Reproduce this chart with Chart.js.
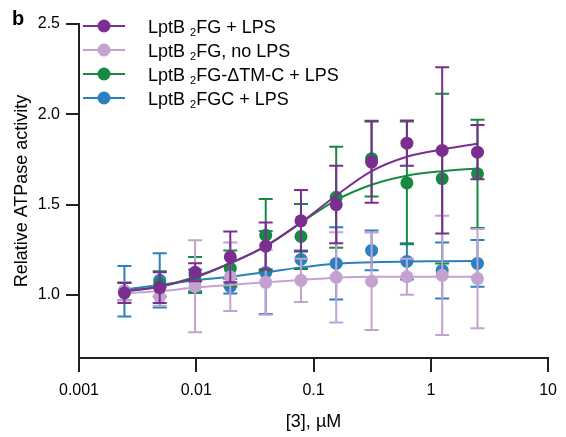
<!DOCTYPE html>
<html>
<head>
<meta charset="utf-8">
<script src="https://cdn.jsdelivr.net/npm/chart.js@4/dist/chart.umd.min.js"></script>
<style>
  html, body { margin: 0; padding: 0; background: #ffffff; }
  #wrap { width: 566px; height: 437px; position: relative; }
</style>
</head>
<body>
<div id="wrap"><canvas id="c" width="566" height="437"></canvas></div>
<script>
// ---- data ----
const panelLabel = 'b';
const doses = [0.00244, 0.00488, 0.00977, 0.0195, 0.0391, 0.0781, 0.156, 0.3125, 0.625, 1.25, 2.5];

const seriesLabels = ['LptB ₂FG + LPS', 'LptB ₂FG, no LPS', 'LptB ₂FG-ΔTM-C + LPS', 'LptB ₂FGC + LPS'];

const fgLpsMean = [1.01, 1.04, 1.125, 1.21, 1.27, 1.41, 1.50, 1.735, 1.84, 1.80, 1.79];
const fgLpsSD   = [0.055, 0.085, 0.05, 0.14, 0.13, 0.17, 0.215, 0.225, 0.125, 0.46, 0.15];
const fgLpsFit  = [1.02, 1.045, 1.095, 1.175, 1.27, 1.40, 1.55, 1.685, 1.765, 1.805, 1.837];

const noLpsMean = [1.02, 0.99, 1.047, 1.10, 1.069, 1.08, 1.097, 1.075, 1.10, 1.108, 1.09];
const noLpsSD   = [0.05, 0.05, 0.255, 0.19, 0.18, 0.12, 0.25, 0.27, 0.10, 0.33, 0.275];
const noLpsFit  = [1.01, 1.02, 1.04, 1.055, 1.07, 1.082, 1.095, 1.10, 1.10, 1.10, 1.10];

const dtmMean = [1.02, 1.06, 1.11, 1.146, 1.33, 1.323, 1.54, 1.754, 1.62, 1.644, 1.67];
const dtmSD   = [0.05, 0.07, 0.10, 0.10, 0.20, 0.18, 0.28, 0.21, 0.34, 0.47, 0.30];
const dtmFit  = [1.02, 1.045, 1.10, 1.175, 1.27, 1.40, 1.525, 1.61, 1.66, 1.685, 1.70];

const fgcMean = [1.02, 1.08, 1.08, 1.047, 1.124, 1.196, 1.174, 1.246, 1.185, 1.135, 1.174];
const fgcSD   = [0.14, 0.15, 0.06, 0.04, 0.23, 0.05, 0.20, 0.11, 0.10, 0.155, 0.13];
const fgcFit  = [1.03, 1.055, 1.08, 1.10, 1.125, 1.152, 1.172, 1.18, 1.185, 1.186, 1.187];

const xTicks = [0.001, 0.01, 0.1, 1, 10];
const xTickLabels = ['0.001', '0.01', '0.1', '1', '10'];
const yTicks = [1.0, 1.5, 2.0, 2.5];
const yTickLabels = ['1.0', '1.5', '2.0', '2.5'];
const xTitle = '[3], µM';
const yTitle = 'Relative ATPase activity';

// ---- styles ----
const FONT = "'Liberation Sans', Arial, Helvetica, sans-serif";
const INK = '#231f20';
const C_PURPLE = '#7b2e8f';
const C_LILAC = '#c3a2d0';
const C_GREEN = '#178a41';
const C_BLUE = '#2b80c0';

function pts(vals) { return doses.map((d, i) => ({ x: d, y: vals[i] })); }

function pointSet(label, vals, sd, color, row) {
  return {
    label: label, data: pts(vals), errors: sd, legendRow: row,
    showLine: false, pointRadius: 6.5, pointHoverRadius: 6.5,
    pointBackgroundColor: color, pointBorderColor: color, pointBorderWidth: 0,
    borderColor: color, backgroundColor: color
  };
}
function fitSet(vals, color) {
  return {
    label: 'fit', data: pts(vals), showLine: true, pointRadius: 0, pointHoverRadius: 0,
    borderColor: color, borderWidth: 2, cubicInterpolationMode: 'monotone', fill: false
  };
}

// index 0 is drawn on top
const datasets = [
  pointSet(seriesLabels[0], fgLpsMean, fgLpsSD, C_PURPLE, 0),
  fitSet(fgLpsFit, C_PURPLE),
  pointSet(seriesLabels[1], noLpsMean, noLpsSD, C_LILAC, 1),
  fitSet(noLpsFit, C_LILAC),
  pointSet(seriesLabels[2], dtmMean, dtmSD, C_GREEN, 2),
  fitSet(dtmFit, C_GREEN),
  pointSet(seriesLabels[3], fgcMean, fgcSD, C_BLUE, 3),
  fitSet(fgcFit, C_BLUE)
];

const errorBars = {
  id: 'errorBars',
  beforeDatasetDraw(chart, args) {
    const ds = chart.data.datasets[args.index];
    if (!ds.errors) return;
    const ctx = chart.ctx, xs = chart.scales.x, ys = chart.scales.y;
    ctx.save();
    ctx.strokeStyle = ds.borderColor;
    ctx.lineWidth = 2;
    ds.data.forEach((p, i) => {
      const e = ds.errors[i];
      const px = xs.getPixelForValue(p.x);
      const yt = ys.getPixelForValue(p.y + e);
      const yb = ys.getPixelForValue(p.y - e);
      ctx.beginPath();
      ctx.moveTo(px, yt); ctx.lineTo(px, yb);
      ctx.moveTo(px - 7, yt); ctx.lineTo(px + 7, yt);
      ctx.moveTo(px - 7, yb); ctx.lineTo(px + 7, yb);
      ctx.stroke();
    });
    ctx.restore();
  }
};

function drawLabelWithSub(ctx, text, x, y) {
  // '₂' is rendered as a lowered small "2"
  const parts = text.split('₂');
  let cx = x;
  parts.forEach((part, k) => {
    if (k > 0) {
      ctx.font = '11px ' + FONT;
      ctx.fillText('2', cx, y + 3);
      cx += ctx.measureText('2').width;
    }
    ctx.font = '18px ' + FONT;
    ctx.fillText(part, cx, y);
    cx += ctx.measureText(part).width;
  });
}

const legendAndLabel = {
  id: 'legendAndLabel',
  afterDraw(chart) {
    const ctx = chart.ctx;
    ctx.save();
    // panel label
    ctx.fillStyle = '#000';
    ctx.font = 'bold 20px ' + FONT;
    ctx.textBaseline = 'alphabetic';
    ctx.textAlign = 'left';
    ctx.fillText(panelLabel, 12, 25);
    // legend
    chart.data.datasets.forEach(ds => {
      if (ds.legendRow === undefined) return;
      const cy = 26 + ds.legendRow * 24;
      ctx.strokeStyle = ds.borderColor;
      ctx.lineWidth = 2;
      ctx.beginPath(); ctx.moveTo(83, cy); ctx.lineTo(125, cy); ctx.stroke();
      ctx.fillStyle = ds.borderColor;
      ctx.beginPath(); ctx.arc(104, cy, 6.5, 0, Math.PI * 2); ctx.fill();
      ctx.fillStyle = '#000';
      ctx.textBaseline = 'alphabetic';
      drawLabelWithSub(ctx, ds.label, 148, cy + 6.5);
    });
    ctx.restore();
  }
};

new Chart(document.getElementById('c'), {
  type: 'line',
  data: { datasets: datasets },
  options: {
    responsive: false,
    animation: false,
    devicePixelRatio: 1,
    layout: { padding: { top: 24, right: 13, left: 0, bottom: 0 } },
    plugins: { legend: { display: false }, tooltip: { enabled: false }, title: { display: false } },
    scales: {
      x: {
        type: 'logarithmic', min: 0.001, max: 10,
        afterBuildTicks: s => { s.ticks = xTicks.map(v => ({ value: v, major: true })); },
        afterFit: s => { s.height = 79; },
        border: { display: true, color: INK, width: 2 },
        grid: { display: true, drawOnChartArea: false, drawTicks: true, tickLength: 14, color: INK, lineWidth: 2 },
        ticks: { autoSkip: false, maxRotation: 0, color: '#000', padding: 9,
                 font: { family: FONT, size: 16 },
                 callback: (v, i) => xTickLabels[i] },
        title: { display: true, text: xTitle, color: '#000', font: { family: FONT, size: 18 },
                 padding: { top: 0, bottom: 4 } }
      },
      y: {
        type: 'linear', min: 0.65, max: 2.5,
        afterBuildTicks: s => { s.ticks = yTicks.map(v => ({ value: v })); },
        afterFit: s => { s.width = 79; },
        border: { display: true, color: INK, width: 2 },
        grid: { display: true, drawOnChartArea: false, drawTicks: true, tickLength: 13, color: INK, lineWidth: 2 },
        ticks: { color: '#000', padding: 6, font: { family: FONT, size: 16 },
                 callback: (v, i) => yTickLabels[i] },
        title: { display: true, text: yTitle, color: '#000', font: { family: FONT, size: 18 },
                 padding: { top: 11, bottom: 0 } }
      }
    }
  },
  plugins: [errorBars, legendAndLabel]
});
</script>
</body>
</html>
